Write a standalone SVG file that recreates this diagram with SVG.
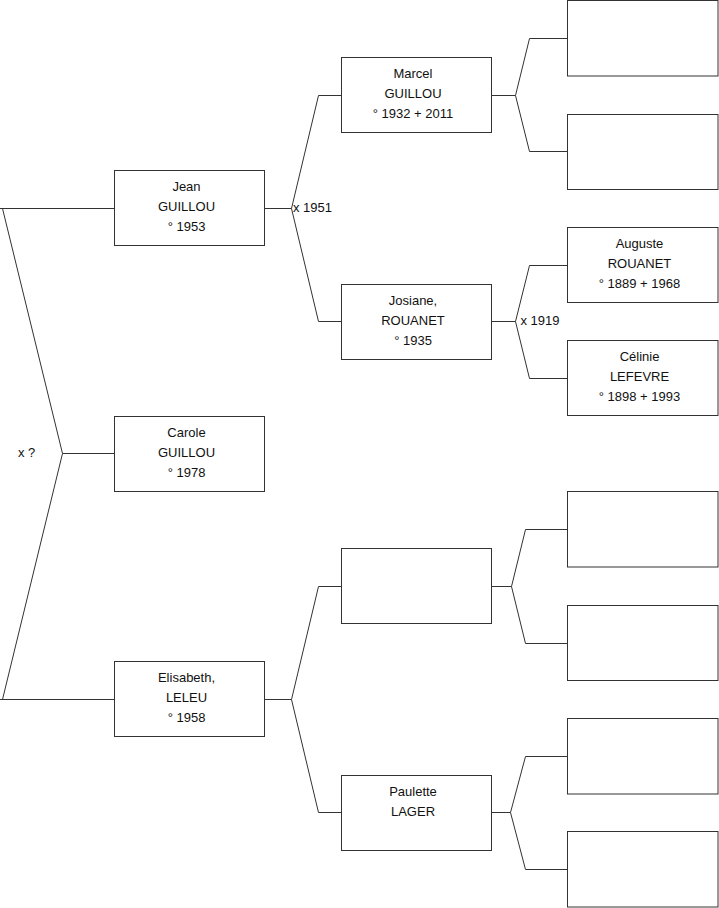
<svg xmlns="http://www.w3.org/2000/svg" width="719" height="908" viewBox="0 0 719 908">
<style>
  .box { fill: #ffffff; stroke: #333333; stroke-width: 1; }
  .line { fill: none; stroke: #333333; stroke-width: 1; }
  text { font-family: "Liberation Sans", Arial, sans-serif; font-size: 13px; fill: #111111; }
  .c { text-anchor: middle; }
</style>
<rect x="0" y="0" width="719" height="908" fill="#ffffff"/>
<g id="connectors">
  <path class="line" d="M0,208.5 H114 M2.5,208.5 L62.5,453.5 L2.5,699.5 M62.5,453.5 H114 M0,699.5 H114"/>
  <path class="line" d="M265,208.5 H291.5 L318.5,95.5 H341 M291.5,208.5 L318.5,321.5 H341"/>
  <path class="line" d="M492,95.5 H515.5 L529.5,38.5 H567 M515.5,95.5 L529.5,151.5 H567"/>
  <path class="line" d="M492,321.5 H515.5 L529.5,265.5 H567 M515.5,321.5 L529.5,378.5 H567"/>
  <path class="line" d="M265,699.5 H291.5 L318.5,586.5 H341 M291.5,699.5 L318.5,812.5 H341"/>
  <path class="line" d="M492,586.5 H511.5 L525.5,529.5 H567 M511.5,586.5 L525.5,643.5 H567"/>
  <path class="line" d="M492,812.5 H510.5 L525.5,756.5 H567 M510.5,812.5 L525.5,869.5 H567"/>
  <text x="293" y="212">x 1951</text>
  <text x="520.5" y="324.5">x 1919</text>
  <text x="18" y="457">x ?</text>
</g>
<g id="jean">
  <rect class="box" x="114.5" y="170.5" width="150" height="75"/>
  <text class="c" x="186.5" y="191">Jean</text>
  <text class="c" x="186.5" y="211">GUILLOU</text>
  <text class="c" x="186.5" y="231">° 1953</text>
</g>
<g id="carole">
  <rect class="box" x="114.5" y="416.5" width="150" height="75"/>
  <text class="c" x="186.5" y="437">Carole</text>
  <text class="c" x="186.5" y="457">GUILLOU</text>
  <text class="c" x="186.5" y="477">° 1978</text>
</g>
<g id="elisabeth">
  <rect class="box" x="114.5" y="661.5" width="150" height="75"/>
  <text class="c" x="186.5" y="682">Elisabeth,</text>
  <text class="c" x="186.5" y="702">LELEU</text>
  <text class="c" x="186.5" y="722">° 1958</text>
</g>
<g id="marcel">
  <rect class="box" x="341.5" y="57.5" width="150" height="75"/>
  <text class="c" x="413" y="78">Marcel</text>
  <text class="c" x="413" y="98">GUILLOU</text>
  <text class="c" x="413" y="118">° 1932 + 2011</text>
</g>
<g id="josiane">
  <rect class="box" x="341.5" y="284.5" width="150" height="75"/>
  <text class="c" x="413" y="305">Josiane,</text>
  <text class="c" x="413" y="325">ROUANET</text>
  <text class="c" x="413" y="345">° 1935</text>
</g>
<g id="unknown-father-elisabeth">
  <rect class="box" x="341.5" y="548.5" width="150" height="75"/>
</g>
<g id="paulette">
  <rect class="box" x="341.5" y="775.5" width="150" height="75"/>
  <text class="c" x="413" y="796">Paulette</text>
  <text class="c" x="413" y="816">LAGER</text>
</g>
<g id="gp1">
  <rect class="box" x="567.5" y="0.5" width="150.5" height="75.5"/>
</g>
<g id="gp2">
  <rect class="box" x="567.5" y="114.5" width="150.5" height="75"/>
</g>
<g id="auguste">
  <rect class="box" x="567.5" y="227.5" width="150.5" height="75"/>
  <text class="c" x="639.5" y="248">Auguste</text>
  <text class="c" x="639.5" y="268">ROUANET</text>
  <text class="c" x="639.5" y="288">° 1889 + 1968</text>
</g>
<g id="celinie">
  <rect class="box" x="567.5" y="340.5" width="150.5" height="75"/>
  <text class="c" x="639.5" y="361">Célinie</text>
  <text class="c" x="639.5" y="381">LEFEVRE</text>
  <text class="c" x="639.5" y="401">° 1898 + 1993</text>
</g>
<g id="gp5">
  <rect class="box" x="567.5" y="491.5" width="150.5" height="75.5"/>
</g>
<g id="gp6">
  <rect class="box" x="567.5" y="605.5" width="150.5" height="75"/>
</g>
<g id="gp7">
  <rect class="box" x="567.5" y="718.5" width="150.5" height="75.5"/>
</g>
<g id="gp8">
  <rect class="box" x="567.5" y="831.5" width="150.5" height="75.5"/>
</g>
</svg>
